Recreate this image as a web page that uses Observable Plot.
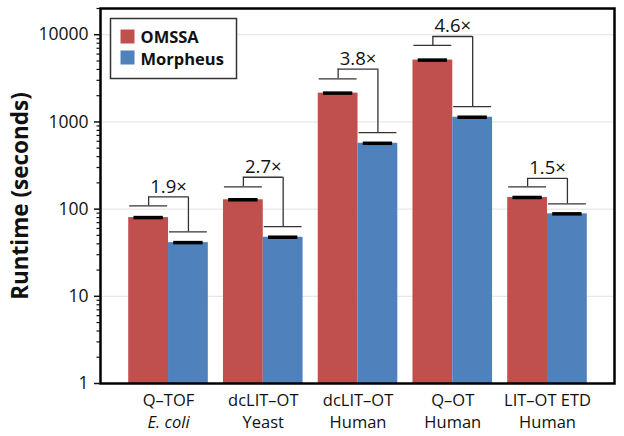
<!DOCTYPE html>
<html><head><meta charset="utf-8">
<script src="https://cdn.jsdelivr.net/npm/d3@7"></script>
<script src="https://cdn.jsdelivr.net/npm/@observablehq/plot@0.6"></script>
<style>body{margin:0;background:#fff;} svg{display:block}</style>
</head><body><div id="chart"></div>
<script>
const series = ["OMSSA", "Morpheus"];
const colors = ["#c0504d", "#4f81bd"];
const line1 = ["Q–TOF", "dcLIT–OT", "dcLIT–OT", "Q–OT", "LIT–OT ETD"];
const line2 = ["E. coli", "Yeast", "Human", "Human", "Human"];
const omssa = [80, 128, 2140, 5120, 136];
const morpheus = [41.3, 47.6, 569, 1132, 88.3];
const omssaCap = [109, 180, 3120, 7540, 180];
const morpheusCap = [54.8, 63, 753, 1500, 115];
const bracketTop = [138, 232, 4040, 9550, 225];
const ratioLabels = ["1.9×", "2.7×", "3.8×", "4.6×", "1.5×"];
const majorTicks = [1, 10, 100, 1000, 10000];

const groups = line1.map((g, i) => ({i, l1: g, l2: line2[i], top: bracketTop[i], label: ratioLabels[i]}));
const rows = groups.flatMap(g => [
  {i: g.i, series: series[0], side: -1, v: omssa[g.i], cap: omssaCap[g.i], top: g.top},
  {i: g.i, series: series[1], side: 1, v: morpheus[g.i], cap: morpheusCap[g.i], top: g.top}
]);
const minorTicks = [];
for (const d of [1, 10, 100, 1000]) for (let k = 2; k <= 9; k++) minorTicks.push(d * k);
minorTicks.push(20000);

const BW = 0.42;
const ctr = d => d.i + d.side * BW / 2;
const F = "'Open Sans', sans-serif";

const chart = Plot.plot({
  width: 624, height: 436,
  marginLeft: 100, marginRight: 10, marginTop: 8, marginBottom: 53,
  style: {fontFamily: F, fontSize: "16px", color: "#111", background: "white"},
  x: {domain: [-0.718, 4.707], axis: null},
  y: {type: "log", domain: [1, 20000]},
  color: {domain: series, range: colors},
  marks: [
    Plot.gridY({ticks: [10, 100, 1000, 10000], stroke: "#e2e2e2", strokeOpacity: 1, strokeWidth: 1}),
    Plot.frame({fill: "white", stroke: "#333", strokeWidth: 1.5, insetLeft: 10, insetTop: 10, insetRight: 378, insetBottom: 305}),
    Plot.rectY(rows, {x1: d => d.side < 0 ? d.i - BW : d.i, x2: d => d.side < 0 ? d.i : d.i + BW, y1: 1, y2: "v", fill: "series"}),
    Plot.ruleY(rows, {x1: d => ctr(d) - 0.155, x2: d => ctr(d) + 0.155, y: "v", stroke: "black", strokeWidth: 3.5}),
    Plot.ruleY(rows, {x1: d => ctr(d) - 0.2, x2: d => ctr(d) + 0.2, y: "cap", stroke: "#333", strokeWidth: 1.3}),
    Plot.ruleX(rows, {x: ctr, y1: "cap", y2: "top", stroke: "#333", strokeWidth: 1.3}),
    Plot.ruleY(groups, {x1: d => d.i - BW / 2, x2: d => d.i + BW / 2, y: "top", stroke: "#333", strokeWidth: 1.3}),
    Plot.text(groups, {x: "i", y: "top", text: "label", dy: -4, lineAnchor: "bottom", fontSize: 18.5, fill: "#111"}),
    Plot.frame({stroke: "black", strokeWidth: 2.5}),
    Plot.axisY({ticks: majorTicks, tickFormat: d => String(d), tickSize: 6, tickPadding: 6, fontSize: 17.5, label: null, strokeWidth: 1.5}),
    Plot.axisY({ticks: minorTicks, tickFormat: () => "", tickSize: 3.5, label: null, strokeWidth: 1.2}),
    Plot.text(groups, {x: "i", text: "l1", frameAnchor: "bottom", dy: 22, lineAnchor: "bottom", fontSize: 16.5, fill: "#111"}),
    Plot.text(groups.filter(g => g.i === 0), {x: "i", text: "l2", frameAnchor: "bottom", dy: 44, lineAnchor: "bottom", fontSize: 16.5, fontStyle: "italic", fill: "#111"}),
    Plot.text(groups.filter(g => g.i !== 0), {x: "i", text: "l2", frameAnchor: "bottom", dy: 44, lineAnchor: "bottom", fontSize: 16.5, fill: "#111"}),
    Plot.text(["Runtime (seconds)"], {frameAnchor: "left", textAnchor: "middle", lineAnchor: "middle", dx: -80, rotate: -90, fontSize: 22.5, fontWeight: "bold", fill: "#111"}),
    Plot.frame({fill: colors[0], stroke: null, insetLeft: 20, insetTop: 21, insetRight: 480, insetBottom: 340}),
    Plot.frame({fill: colors[1], stroke: null, insetLeft: 20, insetTop: 42, insetRight: 480, insetBottom: 319}),
    Plot.text([series[0]], {frameAnchor: "top-left", dx: 40, dy: 34, lineAnchor: "bottom", textAnchor: "start", fontSize: 16.5, fontWeight: "bold", fill: "#111"}),
    Plot.text([series[1]], {frameAnchor: "top-left", dx: 40, dy: 56, lineAnchor: "bottom", textAnchor: "start", fontSize: 16.5, fontWeight: "bold", fill: "#111"})
  ]
});
document.getElementById("chart").appendChild(chart);
</script>
</body></html>
